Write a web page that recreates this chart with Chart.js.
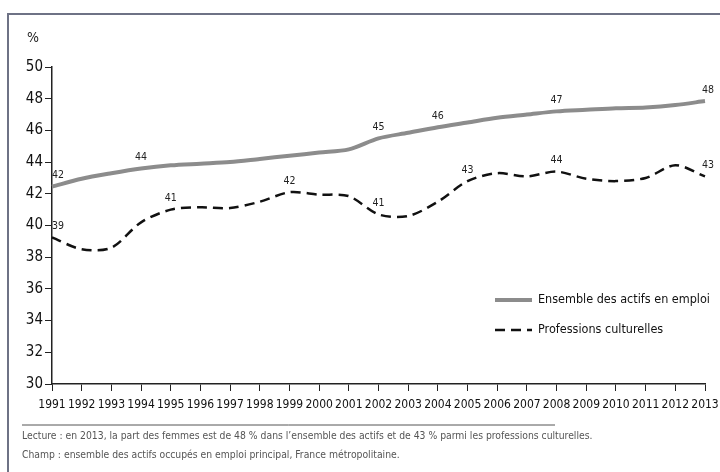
<!DOCTYPE html>
<html>
<head>
<meta charset="utf-8">
<script src="https://cdn.jsdelivr.net/npm/chart.js@4.4.1/dist/chart.umd.min.js"></script>
<style>
  html, body { margin: 0; padding: 0; background: #fff; }
  #wrap { width: 720px; height: 472px; position: relative; }
</style>
</head>
<body>
<div id="wrap"><canvas id="graphique"></canvas></div>
<script>
const annees = ['1991','1992','1993','1994','1995','1996','1997','1998','1999','2000','2001','2002',
                '2003','2004','2005','2006','2007','2008','2009','2010','2011','2012','2013'];
const ensembleActifs = [42.45, 42.95, 43.3, 43.6, 43.8, 43.9, 44.0, 44.2, 44.4, 44.6, 44.8, 45.5,
                        45.85, 46.2, 46.5, 46.8, 47.0, 47.2, 47.3, 47.4, 47.45, 47.6, 47.85];
const professionsCulturelles = [39.25, 38.5, 38.6, 40.2, 41.0, 41.15, 41.1, 41.5, 42.1, 41.95, 41.85, 40.7,
                                40.6, 41.5, 42.8, 43.3, 43.1, 43.4, 42.95, 42.8, 43.0, 43.8, 43.1];
// valeurs affichées au-dessus de certains points
const etiquettesEnsemble = [42, null, null, 44, null, null, null, null, null, null, null, 45,
                            null, 46, null, null, null, 47, null, null, null, null, 48];
const etiquettesCulture = [39, null, null, null, 41, null, null, null, 42, null, null, 41,
                           null, null, 43, null, null, 44, null, null, null, null, 43];
const graduationsY = [30, 32, 34, 36, 38, 40, 42, 44, 46, 48, 50];

const police = '"DejaVu Sans Condensed", "Liberation Sans Narrow", sans-serif';

const habillage = {
    id: 'habillage',
    beforeDraw(chart) {
        const ctx = chart.ctx;
        ctx.save();
        // cadre
        ctx.strokeStyle = '#6e7285';
        ctx.lineWidth = 2;
        ctx.beginPath();
        ctx.moveTo(8, 472);
        ctx.lineTo(8, 14);
        ctx.lineTo(720, 14);
        ctx.stroke();
        ctx.restore();
    },
    afterDraw(chart) {
        const ctx = chart.ctx;
        ctx.save();
        ctx.fillStyle = '#222';
        ctx.font = '14px ' + police;
        ctx.textAlign = 'left';
        ctx.textBaseline = 'middle';
        ctx.fillText('%', 27, 38);

        // étiquettes de valeurs
        ctx.font = '10.5px ' + police;
        ctx.textAlign = 'center';
        ctx.textBaseline = 'bottom';
        [etiquettesEnsemble, etiquettesCulture].forEach((etiq, i) => {
            const meta = chart.getDatasetMeta(i);
            etiq.forEach((v, j) => {
                if (v === null) return;
                const p = meta.data[j];
                let dx = 0;
                if (j === 0) dx = 6;
                if (j === etiq.length - 1) dx = 3;
                ctx.fillText(String(v), p.x + dx, p.y - 6);
            });
        });

        // légende
        const ds = chart.data.datasets;
        const lx = 495, ly = [300, 330];
        ds.forEach((d, i) => {
            ctx.beginPath();
            ctx.strokeStyle = d.borderColor;
            ctx.lineWidth = d.borderWidth;
            ctx.setLineDash(d.borderDash || []);
            ctx.moveTo(lx, ly[i]);
            ctx.lineTo(lx + 37, ly[i]);
            ctx.stroke();
            ctx.setLineDash([]);
            ctx.fillStyle = '#111';
            ctx.font = '12.5px ' + police;
            ctx.textAlign = 'left';
            ctx.textBaseline = 'middle';
            ctx.fillText(d.label, lx + 43, ly[i]);
        });

        // note de lecture
        ctx.strokeStyle = '#555';
        ctx.lineWidth = 1;
        ctx.beginPath();
        ctx.moveTo(22, 425);
        ctx.lineTo(555, 425);
        ctx.stroke();
        ctx.fillStyle = '#555';
        ctx.font = '10.3px ' + police;
        ctx.textAlign = 'left';
        ctx.fillText('Lecture : en 2013, la part des femmes est de 48 % dans l\u2019ensemble des actifs et de 43 % parmi les professions culturelles.', 22, 436);
        ctx.fillText('Champ : ensemble des actifs occupés en emploi principal, France métropolitaine.', 22, 455);
        ctx.restore();
    }
};

new Chart(document.getElementById('graphique'), {
    type: 'line',
    data: {
        labels: annees,
        datasets: [{
            label: 'Ensemble des actifs en emploi',
            data: ensembleActifs,
            borderColor: '#8c8c8c',
            borderWidth: 4,
            pointRadius: 0,
            tension: 0.3
        }, {
            label: 'Professions culturelles',
            data: professionsCulturelles,
            borderColor: '#111',
            borderWidth: 2.5,
            borderDash: [10, 6],
            pointRadius: 0,
            tension: 0.3
        }]
    },
    options: {
        responsive: true,
        maintainAspectRatio: false,
        animation: false,
        layout: { padding: { top: 67, right: 15, left: 0, bottom: 0 } },
        plugins: { legend: { display: false }, tooltip: { enabled: false } },
        scales: {
            x: {
                grid: { drawOnChartArea: false, drawTicks: true, tickLength: 7, color: '#222' },
                border: { color: '#222', width: 1.5 },
                ticks: { color: '#111', font: { family: police, size: 12 }, padding: 7, maxRotation: 0, autoSkip: false },
                afterFit(scale) { scale.height = 88; scale.paddingRight = 0; scale.paddingLeft = 0; }
            },
            y: {
                min: 30,
                max: 50,
                afterBuildTicks(scale) { scale.ticks = graduationsY.map(v => ({ value: v })); },
                grid: { drawOnChartArea: false, drawTicks: true, tickLength: 7, color: '#222' },
                border: { color: '#222', width: 1.5 },
                ticks: { color: '#111', font: { family: police, size: 15 }, padding: 2 },
                afterFit(scale) { scale.width = 52; scale.paddingTop = 0; scale.paddingBottom = 0; }
            }
        }
    },
    plugins: [habillage]
});
</script>
</body>
</html>
